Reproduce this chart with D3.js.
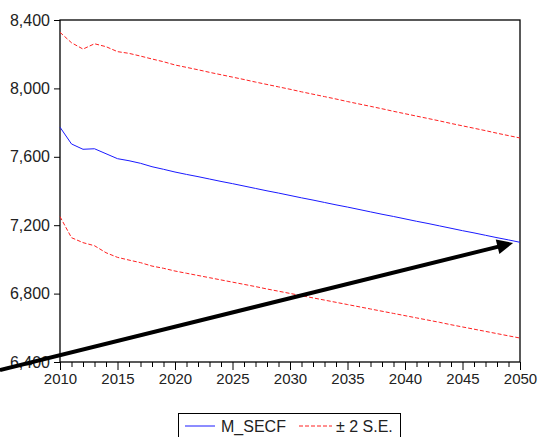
<!DOCTYPE html>
<html><head><meta charset="utf-8">
<script src="https://cdn.jsdelivr.net/npm/d3@7"></script>
<style>body{margin:0;background:#fff;}svg{display:block;font-family:Arial,"Liberation Sans",sans-serif;}</style>
</head><body>
<script>
const years = d3.range(2010, 2051);
const mSecf = [7773,7675,7644,7647,7618,7589,7577,7562,7542,7527,7511,
 7497,7484,7470,7456,7443,7429,7415,7401,7388,7374,7360,7347,7333,7319,7306,7292,7278,7264,7251,7237,7223,7210,7196,7182,7168,7155,7141,7127,7114,7100];
const upper = [8328,8267,8230,8261,8244,8215,8205,8189,8172,8156,8137,
 8123,8109,8094,8080,8066,8052,8037,8023,8009,7995,7980,7966,7952,7938,7923,7909,7895,7881,7866,7852,7838,7824,7810,7795,7781,7767,7753,7738,7724,7710];
const lower = [7250,7127,7098,7080,7039,7012,6996,6981,6961,6948,6932,
 6919,6906,6893,6880,6867,6854,6841,6827,6814,6801,6788,6775,6762,6749,6736,6723,6710,6697,6684,6671,6658,6645,6632,6618,6605,6592,6579,6566,6553,6540];
const yTicks = [6400,6800,7200,7600,8000,8400];
const xTicks = [2010,2015,2020,2025,2030,2035,2040,2045,2050];
const legendLabels = ["M_SECF","± 2 S.E."];
const arrowFrom = [2004.78, 6353];
const arrowTo = [2049.4, 7096];

const W=541,H=437;
const L=60,R=520,T=20,B=362;
const svg=d3.select("body").append("svg").attr("width",W).attr("height",H);
const defs=svg.append("defs");
defs.append("clipPath").attr("id","clip").append("rect").attr("x",0).attr("y",0).attr("width",W).attr("height",H);
const x=d3.scaleLinear().domain([2010,2050]).range([L,R]);
const y=d3.scaleLinear().domain([6400,8400]).range([B,T]);

// frame
svg.append("rect").attr("x",L).attr("y",T).attr("width",R-L).attr("height",B-T)
  .attr("fill","none").attr("stroke","#000").attr("stroke-width",1.3);

// y axis
const ya=svg.append("g").attr("transform",`translate(${L},0)`)
  .call(d3.axisLeft(y).tickValues(yTicks).tickFormat(d3.format(",")).tickSize(6).tickPadding(4));
ya.select(".domain").remove();
ya.selectAll("text").attr("font-size",16).attr("fill","#222").style("font-family","Arial,'Liberation Sans',sans-serif");
ya.selectAll("line").attr("stroke","#000");

// x axis minor
const xm=svg.append("g").attr("transform",`translate(0,${B})`)
  .call(d3.axisBottom(x).tickValues(years.filter(d=>d%5!==0)).tickSize(5).tickFormat(""));
xm.select(".domain").remove();
xm.selectAll("line").attr("stroke","#000");
const xa=svg.append("g").attr("transform",`translate(0,${B})`)
  .call(d3.axisBottom(x).tickValues(xTicks).tickFormat(d3.format("d")).tickSize(8).tickPadding(3));
xa.select(".domain").remove();
xa.selectAll("line").attr("stroke","#000");
xa.selectAll("text").attr("font-size",15).attr("fill","#222").style("font-family","Arial,'Liberation Sans',sans-serif");

const line=d3.line().x((d,i)=>x(years[i])).y(d=>y(d));
svg.append("path").datum(upper).attr("d",line).attr("fill","none").attr("stroke","#ff2020").attr("stroke-width",1).attr("stroke-dasharray","4,2");
svg.append("path").datum(lower).attr("d",line).attr("fill","none").attr("stroke","#ff2020").attr("stroke-width",1).attr("stroke-dasharray","4,2");
svg.append("path").datum(mSecf).attr("d",line).attr("fill","none").attr("stroke","#1a1aff").attr("stroke-width",1);

// arrow
const x1=x(arrowFrom[0]),y1=y(arrowFrom[1]),x2=x(arrowTo[0]),y2=y(arrowTo[1]);
const ang=Math.atan2(y2-y1,x2-x1);
const hl=16,hw=7.5;
const bx=x2-hl*Math.cos(ang),by=y2-hl*Math.sin(ang);
svg.append("line").attr("x1",x1).attr("y1",y1).attr("x2",bx+2*Math.cos(ang)).attr("y2",by+2*Math.sin(ang))
  .attr("stroke","#000").attr("stroke-width",4);
svg.append("path").attr("d",`M${x2},${y2}L${bx-hw*Math.sin(ang)},${by+hw*Math.cos(ang)}L${bx+hw*Math.sin(ang)},${by-hw*Math.cos(ang)}Z`).attr("fill","#000");

// legend
const lg=svg.append("g");
lg.append("rect").attr("x",178.5).attr("y",413.5).attr("width",222).attr("height",40).attr("fill","#fff").attr("stroke","#000").attr("stroke-width",1);
lg.append("line").attr("x1",185).attr("x2",215).attr("y1",426).attr("y2",426).attr("stroke","#1a1aff").attr("stroke-width",1);
lg.append("text").attr("x",221).attr("y",432).attr("font-size",16).attr("fill","#222").text(legendLabels[0]);
lg.append("line").attr("x1",299).attr("x2",332).attr("y1",426).attr("y2",426).attr("stroke","#ff2020").attr("stroke-width",1).attr("stroke-dasharray","4,2");
lg.append("text").attr("x",336).attr("y",432).attr("font-size",16).attr("fill","#222").text(legendLabels[1]);
</script>
</body></html>
